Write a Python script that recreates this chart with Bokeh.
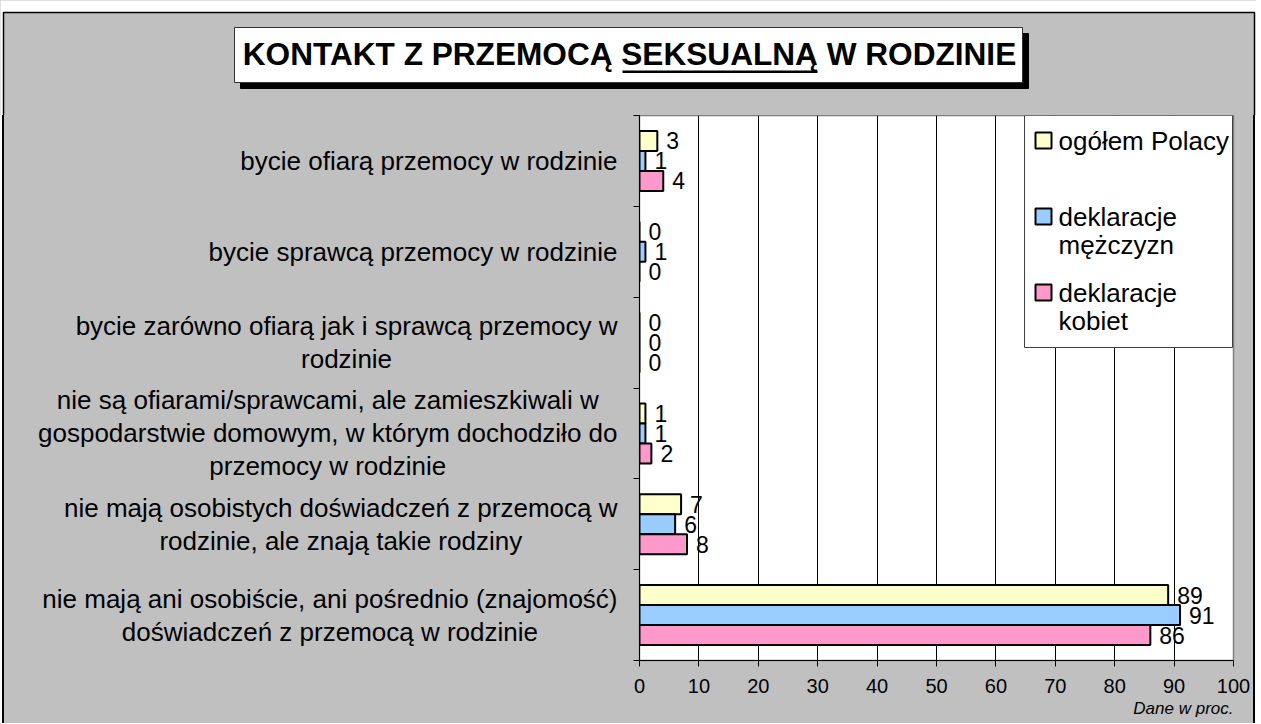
from bokeh.plotting import figure
from bokeh.models import (ColumnDataSource, Range1d, FixedTicker, LabelSet, Label,
                          BoxAnnotation, Title, Spacer)
from bokeh.layouts import column, row
from bokeh.transform import dodge
from bokeh.core.properties import value
from bokeh.embed import file_html
from bokeh.resources import INLINE

# ---------------- data ----------------
categories = [
    "bycie ofiarą przemocy w rodzinie",
    "bycie sprawcą przemocy w rodzinie",
    "bycie zarówno ofiarą jak i sprawcą przemocy w\nrodzinie",
    "nie są ofiarami/sprawcami, ale zamieszkiwali w\ngospodarstwie domowym, w którym dochodziło do\nprzemocy w rodzinie",
    "nie mają osobistych doświadczeń z przemocą w\nrodzinie, ale znają takie rodziny",
    "nie mają ani osobiście, ani pośrednio (znajomość)\ndoświadczeń z przemocą w rodzinie",
]
series_names = ["ogółem Polacy", "deklaracje\nmężczyzn", "deklaracje\nkobiet"]
ogolem = [3, 0, 0, 1, 7, 89]
mezczyzn = [1, 1, 0, 1, 6, 91]
kobiet = [4, 0, 0, 2, 8, 86]
x_ticks = [0, 10, 20, 30, 40, 50, 60, 70, 80, 90, 100]
title_text = "KONTAKT Z PRZEMOCĄ SEKSUALNĄ W RODZINIE"
unit_note = "Dane w proc."

# ---------------- styles / layout ----------------
colors = ["#FFFFCC", "#99CCFF", "#FF99CC"]
FONT = "Liberation Sans"
BG = "#C0C0C0"
bar_h = 0.22
TOTAL_W, TOTAL_H = 1256, 723
TOP_H = 115          # title strip height
EDGE_W = 4           # width of the side edge strips
LEFT_W = 624         # category label strip width
FRAME_H = 545
BOTTOM = TOTAL_H - TOP_H - FRAME_H
ROW_H = TOTAL_H - TOP_H

n = len(categories)
ypos = [n - 0.5 - i for i in range(n)]
series = [ogolem, mezczyzn, kobiet]
offsets = [bar_h, 0.0, -bar_h]


def scr(**kw):
    d = {"line_alpha": 1.0}
    for k in ("left", "right", "top", "bottom"):
        if k in kw:
            d[k] = kw.pop(k)
            d[k + "_units"] = "screen"
    d.update(kw)
    return BoxAnnotation(**d)


# ---------------- title strip ----------------
pt = figure(width=TOTAL_W, height=TOP_H, x_axis_type=None, y_axis_type=None,
            x_range=Range1d(0, TOTAL_W), y_range=Range1d(0, TOP_H),
            output_backend="svg", toolbar_location=None,
            min_border=0, background_fill_color="white", border_fill_color="white")
pt.grid.visible = False
pt.outline_line_color = None
pt.add_layout(scr(left=3, right=1254, top=103, bottom=-50, fill_color=BG, fill_alpha=1,
                  line_color="black", line_width=1.5))
pt.add_layout(scr(left=240, right=1028, top=82, bottom=27, fill_color="black",
                  fill_alpha=1, line_color="black"))
pt.add_layout(scr(left=234, right=1022, top=88, bottom=33, fill_color="white",
                  fill_alpha=1, line_color="#333333", line_width=1))
pt.add_layout(Label(x=629, y=62, x_units="screen", y_units="screen",
                    text=title_text, text_align="center", text_baseline="middle",
                    text_font=FONT, text_font_size="31.6px", text_font_style="bold",
                    text_color="black"))
pt.add_layout(scr(left=622, right=817, top=45, bottom=42.5, fill_color="black",
                  fill_alpha=1, line_color=None))

# ---------------- main chart ----------------
p = figure(width=TOTAL_W - LEFT_W - 2 * EDGE_W, height=ROW_H,
           x_range=Range1d(0, 100), y_range=Range1d(0, n),
           output_backend="svg", toolbar_location=None,
           min_border_left=11, min_border_right=19,
           min_border_top=0, min_border_bottom=BOTTOM,
           background_fill_color="white", border_fill_color=BG)
p.outline_line_color = "#808080"
p.outline_line_width = 1.5

for vals, off, col in zip(series, offsets, colors):
    src = ColumnDataSource(dict(y=ypos, v=vals, t=[str(v) for v in vals]))
    p.hbar(y=dodge("y", off), right="v", left=0, height=bar_h, source=src,
           fill_color=col, line_color="black", line_width=2)
    p.add_layout(LabelSet(x="v", y=dodge("y", off), text="t", source=src,
                          x_offset=9, text_baseline="middle", text_align="left",
                          text_font=value(FONT), text_font_size=value("23px"),
                          text_color="black"))

p.xaxis.ticker = FixedTicker(ticks=x_ticks)
p.xaxis.axis_line_color = "black"
p.xaxis.major_tick_out = 6
p.xaxis.major_tick_in = 0
p.xaxis.minor_tick_line_color = None
p.xaxis.major_label_text_font = FONT
p.xaxis.major_label_text_font_size = "20px"
p.xaxis.major_label_text_color = "black"
p.xaxis.major_label_standoff = 12

p.yaxis.ticker = FixedTicker(ticks=list(range(n + 1)))
p.yaxis.axis_line_color = "black"
p.yaxis.major_tick_out = 6
p.yaxis.major_tick_in = 0
p.yaxis.minor_tick_line_color = None
p.yaxis.major_label_overrides = {i: "" for i in range(n + 1)}

p.xgrid.ticker = FixedTicker(ticks=x_ticks[1:-1])
p.xgrid.grid_line_color = "black"
p.xgrid.grid_line_width = 1
p.ygrid.grid_line_color = None

p.add_layout(Title(text=unit_note, align="right", text_font=FONT,
                   text_font_size="17px", text_font_style="italic",
                   text_color="black", standoff=2), "below")

# legend (drawn manually inside the plot area)
p.add_layout(scr(left=385, right=593, top=545, bottom=313, fill_color="white",
                 fill_alpha=1, line_color="#404040", line_width=1))
for j, (name, col) in enumerate(zip(series_names, colors)):
    top = 528 - 76 * j
    p.add_layout(scr(left=396, right=412, top=top, bottom=top - 16, fill_color=col,
                     fill_alpha=1, line_color="black", line_width=2))
    for k, line in enumerate(name.split("\n")):
        p.add_layout(Label(x=419, y=top - 8 - 28 * k, x_units="screen", y_units="screen",
                           text=line, text_align="left", text_baseline="middle",
                           text_font=FONT, text_font_size="26px", text_color="black"))

# ---------------- category label strip (frame aligned with the chart) ----------------
pl = figure(width=LEFT_W, height=ROW_H, x_axis_type=None, y_axis_type=None,
            x_range=Range1d(0, LEFT_W), y_range=p.y_range,
            output_backend="svg", toolbar_location=None,
            min_border=0, min_border_bottom=BOTTOM,
            background_fill_color=BG, border_fill_color=BG)
pl.grid.visible = False
pl.outline_line_color = None
for c, yy in zip(categories, ypos):
    pl.add_layout(Label(x=613, y=yy, x_units="screen", text=c,
                        anchor="center_right", text_align="center",
                        text_baseline="middle", text_line_height=1.1,
                        text_font=FONT, text_font_size="26px", text_color="black"))

# ---------------- outer chart edges ----------------
left_edge = Spacer(width=EDGE_W, height=ROW_H, styles={
    "background": "linear-gradient(to right, white 0px, white 2.25px, black 2.25px, "
                  "black 3.75px, %s 3.75px)" % BG})
right_edge = Spacer(width=EDGE_W, height=ROW_H, styles={
    "background": "linear-gradient(to right, %s 0px, %s 1.25px, black 1.25px, "
                  "black 2.75px, white 2.75px)" % (BG, BG)})

layout = column(pt, row(left_edge, pl, p, right_edge, spacing=0,
                        styles={"background-color": BG}),
                spacing=0, styles={"background-color": BG})
open("out.html", "w").write(file_html(layout, INLINE))
